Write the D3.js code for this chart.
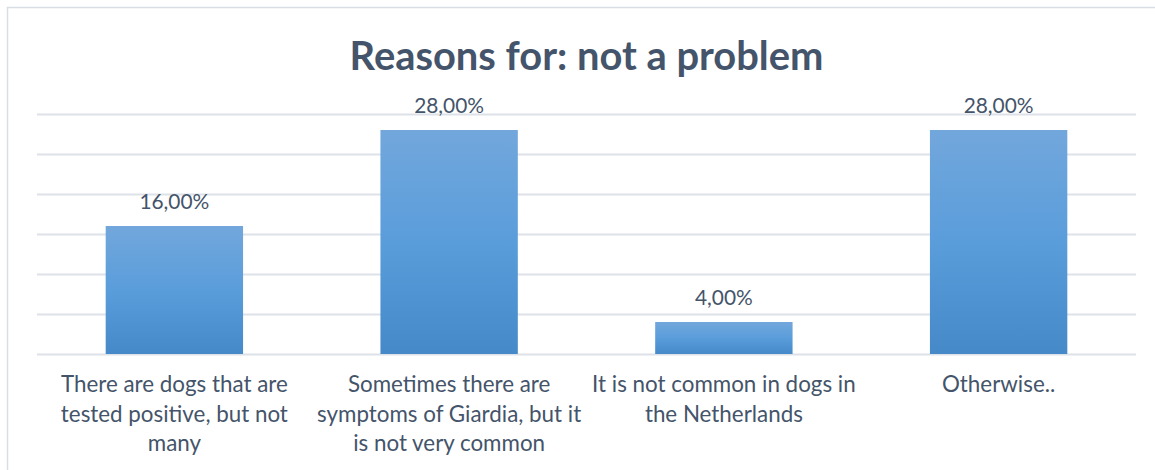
<!DOCTYPE html>
<html><head><meta charset="utf-8">
<script src="https://cdn.jsdelivr.net/npm/d3@7"></script>
<style>
html,body{margin:0;padding:0;background:#fff;}
svg{display:block;}
text{font-family:Lato,"Open Sans",sans-serif;}
</style></head>
<body>
<svg id="chart" width="1155" height="470"></svg>
<script>
const title = "Reasons for: not a problem";
const categories = ["A","B","C","D"];
const categoryLines = [
  ["There are dogs that are","tested positive, but not","many"],
  ["Sometimes there are","symptoms of Giardia, but it","is not very common"],
  ["It is not common in dogs in","the Netherlands"],
  ["Otherwise.."]
];
const values = [0.16, 0.28, 0.04, 0.28];
const valueLabels = ["16,00%","28,00%","4,00%","28,00%"];
const gridTicks = [0,0.05,0.10,0.15,0.20,0.25,0.30];

const svg = d3.select("#chart");
const W = 1155, H = 470;

// frame (right and bottom edges fall outside the picture)
svg.append("rect").attr("x",7.5).attr("y",7.5).attr("width",W+20).attr("height",H+20)
  .attr("fill","#fff").attr("stroke","#D9DEE4").attr("stroke-width",1.5);

const x = d3.scaleBand().domain(categories).range([37,1136]).paddingInner(0.5).paddingOuter(0.25);
const y = d3.scaleLinear().domain([0,0.30]).range([354,114]);

// gradient
const defs = svg.append("defs");
const grad = defs.append("linearGradient").attr("id","barGrad").attr("x1",0).attr("y1",0).attr("x2",0).attr("y2",1);
grad.append("stop").attr("offset","0%").attr("stop-color","#72A7DC");
grad.append("stop").attr("offset","50%").attr("stop-color","#5A9DDB");
grad.append("stop").attr("offset","100%").attr("stop-color","#4689C9");

// gridlines
const yAxis = d3.axisLeft(y).tickValues(gridTicks).tickSize(-(1136-37)).tickFormat("");
const gy = svg.append("g").attr("transform","translate(37,0)").call(yAxis);
gy.select(".domain").remove();
gy.selectAll(".tick line").attr("stroke","#DDE2E8").attr("stroke-width",2);

// bars
svg.selectAll(".bar").data(values).enter().append("rect")
  .attr("class","bar")
  .attr("x",(d,i)=>x(categories[i]))
  .attr("width",x.bandwidth())
  .attr("y",d=>y(d))
  .attr("height",d=>y(0)-y(d))
  .attr("fill","url(#barGrad)");

function fit(sel, target){
  const n = sel.node();
  const w = n.getComputedTextLength();
  const fs = parseFloat(sel.attr("font-size"));
  sel.attr("font-size", fs*target/w);
}

// title
const t = svg.append("text").attr("x",(37+1136)/2).attr("y",69.5).attr("text-anchor","middle")
  .attr("font-weight","bold").attr("font-size",36).attr("fill","#44546A").text(title);
fit(t, 474);

// value labels
const vl = svg.selectAll(".vl").data(values).enter().append("text")
  .attr("class","vl")
  .attr("x",(d,i)=>x(categories[i])+x.bandwidth()/2)
  .attr("y",d=>y(d)-17)
  .attr("text-anchor","middle").attr("fill","#44546A").attr("font-size",20)
  .text((d,i)=>valueLabels[i]);
const probe = svg.append("text").attr("font-size",20).text("28,00%");
const vfs = 20*70/probe.node().getComputedTextLength();
probe.remove();
vl.attr("font-size",vfs);

// category labels
const probe2 = svg.append("text").attr("font-size",20).text("There are dogs that are");
const cfs = 20*227/probe2.node().getComputedTextLength();
probe2.remove();
categoryLines.forEach((lines,i)=>{
  const g = svg.append("text").attr("text-anchor","middle").attr("fill","#44546A").attr("font-size",cfs);
  lines.forEach((ln,j)=>{
    g.append("tspan").attr("x",x(categories[i])+x.bandwidth()/2).attr("y",y(0)+38+j*29.5).text(ln);
  });
});
</script>
</body></html>
